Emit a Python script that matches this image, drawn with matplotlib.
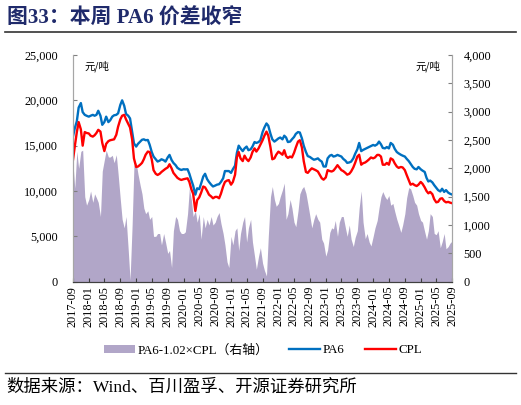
import numpy as np
import pandas as pd
import matplotlib
matplotlib.use("Agg")
import matplotlib.pyplot as plt
import matplotlib.dates as mdates
from matplotlib.ticker import FuncFormatter

plt.rcParams['font.family'] = ['Liberation Serif', 'Noto Sans CJK SC']

# half-month sampling, 2017-09 .. 2025-09
dates = pd.date_range('2017-09-01', periods=193, freq='SMS')

# PA6 price (left axis, 元/吨)
pa6 = [
    16000, 16900, 17700, 19200, 19700, 18700, 18400, 18300, 18200, 18300,
    18400, 18300, 18400, 18850, 18300, 17300, 17600, 18200, 17600, 17800,
    18200, 18350, 18400, 18570, 19500, 20000, 19400, 18500, 18300, 18000,
    16500, 15260, 14900, 15200, 15450, 15650, 15700, 15600, 15630, 15100,
    14300, 13800, 13500, 13250, 13350, 13500, 13400, 13240, 13700, 13980,
    13420, 13100, 12850, 12550, 12400, 12320, 12400, 12380, 12400, 11900,
    11200, 10600, 9600, 10300, 10200, 10800, 11600, 11900, 11300, 11000,
    10700, 10500, 10600, 10700, 10750, 11000, 11400, 12200, 12200, 12200,
    12000, 12400, 12800, 14200, 15000, 14700, 14400, 14700, 14900, 14500,
    14600, 14900, 15400, 15300, 15400, 15600, 16500, 17000, 17450, 17200,
    16300, 15700, 15450, 15600, 15800, 15900, 15700, 16100, 15900, 15400,
    15450, 15700, 15950, 16300, 16500, 16450, 15800, 15000, 14300, 13850,
    13750, 13600, 13450, 13500, 13600, 13400, 13240, 12700, 12700, 13600,
    13900, 13980, 13800, 13850, 13980, 13900, 13800, 13550, 13350, 13100,
    13150, 13240, 13600, 14100, 14600, 15300, 14400, 14530, 14650, 14750,
    14850, 14950, 15080, 15000, 15150, 15450, 15150, 14750, 14700, 14850,
    14700, 15300, 15100, 14650, 14300, 14150, 14000, 13900, 13800, 13550,
    13300, 13000, 12650, 12450, 12390, 12650, 12400, 12250, 12100, 11450,
    11050, 11150, 10950, 10650, 10350, 10100, 9950, 10250, 9900, 10100,
    9820, 9700, 9600,
]

# CPL price (left axis, 元/吨)
cpl = [
    13400, 14900, 16500, 17600, 16800, 15000, 16500, 16400, 16350, 16100,
    16000, 16150, 16400, 16750, 16550, 15300, 14400, 15200, 15500, 15600,
    15650, 15700, 16200, 17100, 17900, 18300, 18400, 17900, 17400, 17000,
    15700, 13600, 12650, 12700, 12900, 13100, 13500, 14000, 14350, 14300,
    13500, 12300, 11900, 11770, 11900, 12100, 12300, 12450, 12600, 12950,
    12500, 12000, 11700, 11450, 11300, 11220, 11300, 11350, 11400, 11000,
    10200, 9700, 7800, 9000, 9300, 9800, 10500, 10400, 10000, 9600,
    9400, 9200, 9350, 9350, 9200, 9700, 10500, 11000, 11150, 11200,
    10700, 11000, 11800, 13700, 14300, 13600, 13300, 13900, 13500, 13300,
    13700, 14300, 14700, 14350, 14700, 15100, 15600, 16100, 16550, 16100,
    14800, 13500, 13600, 14000, 14340, 14200, 14000, 14500, 13850, 13650,
    13800, 13700, 14200, 14800, 15450, 15600, 14800, 13300, 12100, 12000,
    12300, 12500, 12400, 12300, 12150, 11800, 11400, 11250, 11500, 12300,
    12200, 12150, 12250, 12500, 12850, 12600, 12300, 12200, 12000, 11800,
    11900, 12150, 12600, 13100, 13800, 14000, 12900, 13060, 13150, 13300,
    13500, 13700, 13600, 13700, 13980, 13980, 13800, 12900, 12900, 13100,
    12900, 13600, 13450, 13050, 12700, 12550, 12650, 12600, 12300, 11770,
    11200, 10700, 10800, 10650, 10550, 10700, 11000, 10800, 10400, 10000,
    9745, 9900, 9650, 9100, 8750, 8800, 9150, 9200, 8900, 8750,
    8800, 8720, 8650,
]

# PA6 - 1.02*CPL spread (right axis)
spread = [
    2100, 1650, 2300, 2000, 2300, 2320, 1500, 1350, 1450, 1600,
    1400, 1550, 1480, 1400, 1150, 1950, 2150, 2320, 2200, 2200,
    2230, 2100, 2240, 1900, 1450, 1100, 950, 1150, 560, 30,
    1000, 2050, 2100, 1900, 1700, 1550, 1300, 1200, 1250, 1100,
    1150, 800, 800, 850, 850, 650, 850, 700, 500, 550,
    250, 900, 1150, 1100, 900, 850, 850, 880, 1200, 1650,
    1450, 1150, 1250, 1050, 1200, 750, 1150, 950, 1100, 1000,
    1150, 1000, 1050, 1150, 1220, 1030, 850, 650, 350, 250,
    800, 650, 900, 950, 550, 850, 1050, 1150, 700, 950,
    1100, 700, 450, 220, 450, 600, 325, 200, 100, 800,
    1500, 1680, 1450, 1330, 1380, 1500, 1620, 1740, 1100, 1200,
    1450, 1300, 1050, 970, 1250, 1550, 1640, 1680, 1560, 1380,
    1150, 950, 1100, 1200, 1100, 1050, 750, 680, 450, 560,
    870, 950, 930, 1080, 800, 1050, 1150, 1150, 950, 800,
    1000, 750, 620, 780, 900, 1300, 1600, 1050, 760, 850,
    700, 630, 800, 950, 1080, 1300, 1500, 1590, 1500, 1450,
    1520, 1350, 1380, 1240, 1100, 1000, 870, 1000, 1200, 1480,
    1660, 1640, 1520, 1400, 1350, 1200, 1080, 1050, 880, 750,
    900, 1200, 1150, 850, 830, 900, 600, 700, 850, 580,
    620, 680, 720,
]

title = '图33：本周 PA6 价差收窄'
source = '数据来源：Wind、百川盈孚、开源证券研究所'

fig = plt.figure(figsize=(5.21, 4.05), dpi=100)
ax = fig.add_axes([0.140, 0.3045, 0.728, 0.5597])
ax2 = ax.twinx()

# spread area on the right axis, kept behind the lines
ax2.fill_between(dates, 0, spread, color='#B1A6C8', linewidth=0,
                 label='PA6-1.02×CPL（右轴）')
ax.plot(dates, pa6, color='#0070C0', lw=1.7, label='PA6')
ax.plot(dates, cpl, color='#FF0000', lw=1.7, label='CPL')
ax.set_zorder(ax2.get_zorder() + 1)
ax.patch.set_visible(False)

ax.set_ylim(0, 25000)
ax2.set_ylim(0, 4000)
ax.set_yticks(np.arange(0, 25001, 5000))
ax2.set_yticks(np.arange(0, 4001, 500))
thousands = FuncFormatter(lambda v, p: f'{int(v):,}')
ax.yaxis.set_major_formatter(thousands)
ax2.yaxis.set_major_formatter(thousands)

ax.set_xlim(pd.Timestamp('2017-09-01'), pd.Timestamp('2025-09-01'))
ax.xaxis.set_major_locator(mdates.MonthLocator(bymonth=[1, 5, 9]))
ax.xaxis.set_major_formatter(mdates.DateFormatter('%Y-%m'))
plt.setp(ax.get_xticklabels(), rotation=90)

for a in (ax, ax2):
    a.spines['top'].set_visible(False)
    a.spines['left'].set_color('#A6A6A6')
    a.spines['right'].set_color('#A6A6A6')
    a.spines['bottom'].set_color('#404040')
    a.tick_params(labelsize=8.8, direction='in', length=3, color='#808080')
ax.tick_params(axis='x', pad=3, color='#404040')
ax.tick_params(axis='y', pad=11)
ax2.tick_params(axis='y', pad=8)

ax.text(0.03, 0.95, '元/吨', transform=ax.transAxes, fontsize=7.5,
        family=['Noto Sans CJK SC'], va='center', ha='left')
ax2.text(0.97, 0.95, '元/吨', transform=ax2.transAxes, fontsize=7.5,
         family=['Noto Sans CJK SC'], va='center', ha='right')

h1, l1 = ax2.get_legend_handles_labels()
h2, l2 = ax.get_legend_handles_labels()
fig.legend(h1 + h2, l1 + l2, loc='center', bbox_to_anchor=(0.505, 0.135),
           ncol=3, frameon=False, fontsize=9.3, handlelength=2.4,
           handleheight=0.6, columnspacing=1.6, handletextpad=0.2)

fig.text(0.013, 0.955, title, fontsize=15, fontweight='bold',
         color='#1F2A6B', va='center', ha='left')
fig.add_artist(plt.Line2D([0.01, 0.99], [0.922, 0.922], color='#333333', lw=1.2))
fig.add_artist(plt.Line2D([0.01, 0.99], [0.079, 0.079], color='#333333', lw=1.0))
fig.text(0.013, 0.042, source, fontsize=12.5, va='center', ha='left')

fig.savefig('out.png', dpi=100)
